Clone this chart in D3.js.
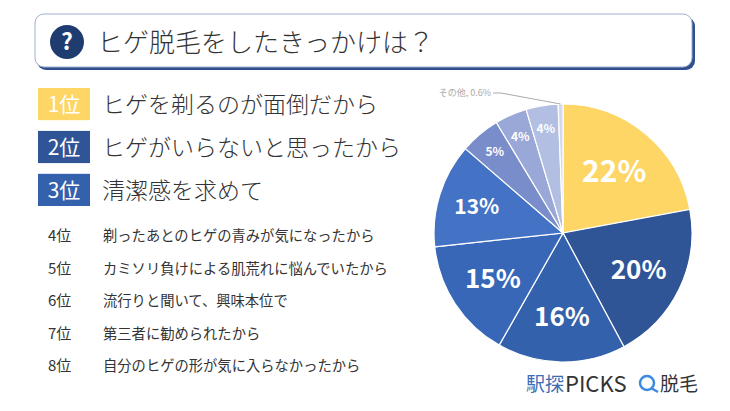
<!DOCTYPE html><html><head><meta charset="utf-8"><script src="https://cdn.jsdelivr.net/npm/d3@7"></script>
<style>body{margin:0;background:#fff}text{font-family:"Noto Sans CJK JP","Noto Sans",sans-serif}</style></head><body>
<svg id="c" width="730" height="411"></svg>
<script>
const categories=["ヒゲを剃るのが面倒だから","ヒゲがいらないと思ったから","清潔感を求めて","剃ったあとのヒゲの青みが気になったから","カミソリ負けによる肌荒れに悩んでいたから","流行りと聞いて、興味本位で","第三者に勧められたから","自分のヒゲの形が気に入らなかったから","その他"];
const values=[22,20,16,15,13,5,4,4,0.6];
const labels=["22%","20%","16%","15%","13%","5%","4%","4%",""];
const ranks=["1位","2位","3位","4位","5位","6位","7位","8位"];
const colors=["#FDD666","#2F5597","#3461AB","#3967B8","#4472C4","#7A8DCB","#9AA8D8","#B3BFE2","#D3D8EA"];
const svg=d3.select("#c");
svg.append("rect").attr("x",37).attr("y",17).attr("width",658).attr("height",53).attr("rx",9).attr("fill","#2F4F8F");
svg.append("rect").attr("x",35).attr("y",14).attr("width",657).attr("height",53).attr("rx",9).attr("fill","#fff").attr("stroke","#9FB0CC").attr("stroke-width",1);
svg.append("circle").attr("cx",67).attr("cy",42).attr("r",17).attr("fill","#1F3C70");
svg.append("text").attr("x",67).attr("y",50).attr("text-anchor","middle").attr("font-size",23).attr("font-weight","bold").attr("fill","#fff").text("?");
svg.append("text").attr("x",97).attr("y",52).attr("font-size",26).attr("font-weight",300).attr("fill","#333").text("ヒゲ脱毛をしたきっかけは？");
const rankCol=["#FDD666","#2F5597","#3461AB"];
const yTop=d3.scaleBand().domain([0,1,2]).range([88,206]).paddingInner(0.25);
[0,1,2].forEach(i=>{const y=yTop(i),h=yTop.bandwidth();
svg.append("rect").attr("x",38).attr("y",y).attr("width",52).attr("height",h).attr("fill",rankCol[i]);
svg.append("text").attr("x",64).attr("y",y+h/2+8).attr("text-anchor","middle").attr("font-size",21).attr("fill","#fff").text(ranks[i]);
svg.append("text").attr("x",102).attr("y",y+h/2+9).attr("font-size",23).attr("font-weight",300).attr("fill","#333").text(categories[i]);});
const yLow=d3.scalePoint().domain([3,4,5,6,7]).range([236,366]);
[3,4,5,6,7].forEach(i=>{const y=yLow(i);
svg.append("text").attr("x",48).attr("y",y+5).attr("font-size",15).attr("fill","#333").text(ranks[i]);
svg.append("text").attr("x",103).attr("y",y+5).attr("font-size",14.3).attr("fill","#333").text(categories[i]);});
const cx=563,cy=233,r=129;
const pie=d3.pie().sort(null)(values);
const arc=d3.arc().innerRadius(0).outerRadius(r);
const g=svg.append("g").attr("transform",`translate(${cx},${cy})`);
g.selectAll("path").data(pie).join("path").attr("d",arc).attr("fill",(d,i)=>colors[i]).attr("stroke","#fff").attr("stroke-width",1.2);
const sizes=[30,26,26,26,21,12,12,12];
const rad=[0.62,0.65,0.65,0.65,0.7,0.82,0.82,0.82];
pie.forEach((d,i)=>{if(!labels[i])return;const a=(d.startAngle+d.endAngle)/2,rr=r*rad[i];
g.append("text").attr("x",Math.sin(a)*rr).attr("y",-Math.cos(a)*rr+sizes[i]*0.36).attr("text-anchor","middle").attr("font-size",sizes[i]).attr("font-weight","bold").attr("font-family","Noto Sans, sans-serif").attr("fill","#fff").text(labels[i]);});
const o=pie[8],oa=(o.startAngle+o.endAngle)/2;
g.append("polyline").attr("points",`${Math.sin(oa)*r},${-Math.cos(oa)*r} ${-62},${-140} ${-70},${-140}`).attr("fill","none").attr("stroke","#aaa");
g.append("text").attr("x",-72).attr("y",-137).attr("text-anchor","end").attr("font-size",9).attr("fill","#aaa").text(categories[8]+", 0.6%");
svg.append("text").attr("x",526).attr("y",391).attr("font-size",19).attr("fill","#3B6EB5").text("駅探");
svg.append("text").attr("x",565).attr("y",392).attr("font-size",22).attr("fill","#333").attr("font-family","Noto Sans, sans-serif").text("PICKS");
svg.append("circle").attr("cx",647).attr("cy",383).attr("r",7).attr("fill","none").attr("stroke","#3B8BE0").attr("stroke-width",2.5);
svg.append("line").attr("x1",651).attr("y1",388).attr("x2",658).attr("y2",392).attr("stroke","#3B8BE0").attr("stroke-width",2.5);
svg.append("text").attr("x",660).attr("y",391).attr("font-size",19).attr("fill","#333").text("脱毛");
</script></body></html>
